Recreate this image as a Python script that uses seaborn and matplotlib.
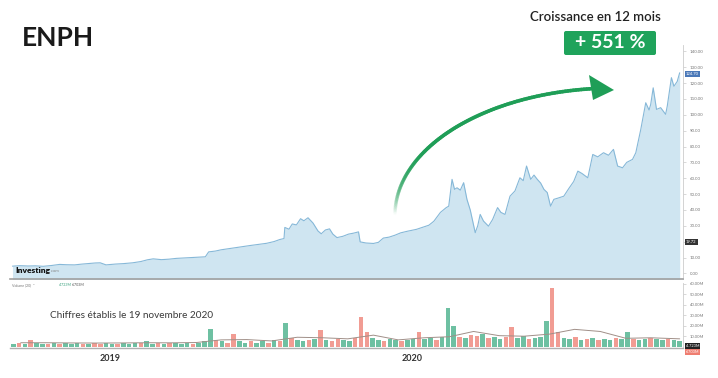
import numpy as np
import pandas as pd
import matplotlib.pyplot as plt
import seaborn as sns
from matplotlib.collections import LineCollection
from matplotlib.patches import FancyBboxPatch, Polygon

# ENPH closing prices
price_dates = [
    "2018-09-05", "2018-09-14", "2018-09-24", "2018-10-03", "2018-10-12", "2018-10-22",
    "2018-11-01", "2018-11-09", "2018-11-19", "2018-11-28", "2018-12-07", "2018-12-14",
    "2018-12-20", "2018-12-27", "2019-01-07", "2019-01-17", "2019-01-28", "2019-02-07",
    "2019-02-15", "2019-02-22", "2019-03-04", "2019-03-13", "2019-03-22", "2019-04-02",
    "2019-04-11", "2019-04-22", "2019-04-26", "2019-04-30", "2019-05-08", "2019-05-15",
    "2019-05-24", "2019-06-03", "2019-06-10", "2019-06-19", "2019-06-28", "2019-07-09",
    "2019-07-18", "2019-07-25", "2019-07-30", "2019-07-31", "2019-08-05", "2019-08-09",
    "2019-08-14", "2019-08-19", "2019-08-23", "2019-08-28", "2019-09-03", "2019-09-09",
    "2019-09-13", "2019-09-18", "2019-09-23", "2019-09-27", "2019-10-02", "2019-10-09",
    "2019-10-16", "2019-10-22", "2019-10-28", "2019-10-30", "2019-11-06", "2019-11-15",
    "2019-11-21", "2019-11-27", "2019-12-04", "2019-12-11", "2019-12-18", "2019-12-26",
    "2020-01-06", "2020-01-14", "2020-01-21", "2020-01-27", "2020-02-04", "2020-02-11",
    "2020-02-14", "2020-02-18", "2020-02-21", "2020-02-24", "2020-02-28", "2020-03-03",
    "2020-03-07", "2020-03-11", "2020-03-17", "2020-03-20", "2020-03-23", "2020-03-27",
    "2020-04-02", "2020-04-07", "2020-04-13", "2020-04-17", "2020-04-22", "2020-04-28",
    "2020-05-04", "2020-05-10", "2020-05-14", "2020-05-18", "2020-05-23", "2020-05-27",
    "2020-05-31", "2020-06-04", "2020-06-08", "2020-06-12", "2020-06-16", "2020-06-20",
    "2020-06-25", "2020-07-02", "2020-07-08", "2020-07-14", "2020-07-19", "2020-07-24",
    "2020-07-31", "2020-08-06", "2020-08-12", "2020-08-19", "2020-08-25", "2020-08-31",
    "2020-09-05", "2020-09-11", "2020-09-16", "2020-09-23", "2020-09-27", "2020-10-03",
    "2020-10-09", "2020-10-13", "2020-10-15", "2020-10-18", "2020-10-22", "2020-10-27",
    "2020-11-02", "2020-11-04", "2020-11-09", "2020-11-12", "2020-11-16", "2020-11-19",
]
price_values = [
    4.6, 4.9, 4.7, 4.8, 4.5, 5.0,
    5.7, 5.5, 5.4, 5.9, 6.3, 6.6,
    6.7, 5.4, 5.9, 6.2, 6.7, 7.5,
    8.6, 9.2, 8.7, 9.0, 9.5, 9.8,
    10.1, 10.4, 10.5, 13.6, 14.1, 14.9,
    15.6, 16.4, 16.9, 17.6, 18.2, 19.0,
    20.1, 21.4, 22.0, 29.0, 27.9, 31.2,
    30.6, 34.5, 33.2, 35.1, 31.8, 26.8,
    25.0, 27.4, 28.1, 24.8, 22.6, 23.4,
    24.8, 25.4, 26.2, 19.9, 19.2, 18.9,
    19.6, 22.3, 22.9, 24.1, 25.6, 26.6,
    27.8, 29.2, 30.4, 32.9, 38.5, 41.5,
    42.4, 59.3, 53.0, 54.0, 52.5, 57.2,
    46.7, 40.0, 25.7, 30.0, 37.2, 33.0,
    29.8, 34.0, 41.5, 38.5, 37.2, 48.7,
    52.0, 60.3, 58.5, 67.7, 59.3, 62.0,
    59.3, 57.0, 53.0, 51.0, 42.4, 46.7,
    47.5, 48.7, 53.5, 58.0, 64.5, 63.0,
    60.3, 75.0, 73.5, 76.1, 74.5, 78.2,
    67.7, 66.6, 70.0, 71.9, 76.1, 90.8,
    107.6, 103.0, 106.6, 117.0, 103.4, 104.5,
    100.3, 105.5, 123.4, 118.0, 121.0, 126.5,
]

# weekly volume (millions), week ending 2020-11-19 is the last one
volumes = [
    3, 4, 3, 6, 4, 3, 3, 4, 3, 4,
    3, 4, 3, 3, 4, 3, 4, 3, 3, 4,
    3, 4, 4, 5, 3, 4, 3, 4, 4, 3,
    4, 3, 4, 5, 17, 6, 5, 4, 12, 5,
    4, 5, 4, 5, 4, 6, 5, 23, 8, 6,
    5, 6, 7, 16, 6, 5, 7, 6, 5, 8,
    28, 14, 8, 6, 5, 7, 6, 5, 6, 7,
    14, 7, 8, 6, 9, 37, 20, 9, 8, 11,
    10, 12, 8, 9, 7, 9, 19, 8, 10, 7,
    8, 9, 24, 56, 14, 8, 7, 9, 6, 7,
    8, 6, 7, 6, 8, 7, 14, 7, 6, 7,
    8, 7, 6, 7, 6, 5,
]
# G = up week, R = down week
volume_dirs = (
    "GRGRGGRGRG" "GGRGRRGGRG" "GGRGGRGRGG" "GRGGGRGRRG"
    "GRGGRGRGRG" "GRGRGRRGGR" "RRGGRGGRGG" "RGGRGGGRGR"
    "RGRGGRRGGR" "GGGRRGGRGR" "GRGGRGGRGG" "RGGRGG"
)

# 20-period volume average (millions), monthly readings
ma_dates = [
    "2018-09-15", "2018-10-15", "2018-11-15", "2018-12-15", "2019-01-15", "2019-02-15",
    "2019-03-15", "2019-04-15", "2019-05-15", "2019-06-15", "2019-07-15", "2019-08-15",
    "2019-09-15", "2019-10-15", "2019-11-15", "2019-12-15", "2020-01-15", "2020-02-15",
    "2020-03-15", "2020-04-15", "2020-05-15", "2020-06-15", "2020-07-15", "2020-08-15",
    "2020-09-15", "2020-10-15", "2020-11-19",
]
ma_values = [
    3.8, 3.8, 3.6, 3.5, 3.6, 3.8,
    3.7, 4.0, 6.5, 6.8, 5.5, 9.0,
    8.5, 7.5, 11.0, 6.5, 8.5, 9.5,
    14.5, 10.5, 10.0, 12.0, 16.5, 14.5,
    8.0, 8.5, 7.5,
]

price_ticks = list(range(0, 141, 10))
volume_ticks = [10, 20, 30, 40, 50, 60]
year_ticks = ["2019-01-01", "2020-01-01"]
year_labels = ["2019", "2020"]

W, H = 718, 378
sns.set_theme(style="white")
plt.rcParams["font.family"] = ["Lato", "DejaVu Sans"]

fig = plt.figure(figsize=(W / 100, H / 100), dpi=100)
fig.patch.set_facecolor("white")

pdates = pd.to_datetime(price_dates)
xmin, xmax = pd.Timestamp("2018-09-02"), pd.Timestamp("2020-11-23")

# ---- price panel
ax_p = fig.add_axes([10 / W, 1 - 279 / H, 673 / W, 234 / H])
ax_p.fill_between(pdates, price_values, -10, color="#cfe5f1", lw=0)
sns.lineplot(x=pdates, y=price_values, ax=ax_p, color="#86b8d8", lw=0.8)
ax_p.set_xlim(xmin, xmax)
ax_p.set_ylim(-3.5, 144)
ax_p.yaxis.tick_right()
ax_p.set_yticks(price_ticks)
# the 20.00 label sits under the dark "one year ago" tag
ax_p.set_yticklabels(["" if v == 20 else f"{v:.2f}" for v in price_ticks])
ax_p.tick_params(axis="y", labelsize=3.2, labelcolor="#777777", length=2,
                 width=0.4, color="#bbbbbb", pad=3)
ax_p.set_xticks([])
ax_p.set_xlabel("")
ax_p.set_ylabel("")
for s in ["top", "left"]:
    ax_p.spines[s].set_visible(False)
ax_p.spines["bottom"].set_color("#a0a0a0")
ax_p.spines["bottom"].set_linewidth(1.2)
ax_p.spines["right"].set_color("#cccccc")
ax_p.spines["right"].set_linewidth(0.6)

# ---- volume panel
vdates = pd.date_range(end="2020-11-19", periods=len(volumes), freq="7D")
vcols = ["#55b592" if d == "G" else "#ef8b80" for d in volume_dirs]
ax_v = fig.add_axes([10 / W, 1 - 348 / H, 673 / W, 65 / H])
ax_v.bar(vdates, volumes, width=5.5, color=vcols, alpha=0.85, lw=0)
sns.lineplot(x=pd.to_datetime(ma_dates), y=ma_values, ax=ax_v,
             color="#a08f88", lw=0.7)
ax_v.set_xlim(xmin, xmax)
ax_v.set_ylim(-1.2, 60.5)
ax_v.yaxis.tick_right()
ax_v.set_yticks(volume_ticks)
ax_v.set_yticklabels([f"{v}.00M" for v in volume_ticks])
ax_v.tick_params(axis="y", labelsize=3.0, labelcolor="#777777", length=2,
                 width=0.4, color="#bbbbbb", pad=3)
ax_v.set_xticks(pd.to_datetime(year_ticks))
ax_v.set_xticklabels(year_labels, fontsize=6.5, fontweight="bold", color="#333333")
ax_v.tick_params(axis="x", length=0, pad=4)
ax_v.set_xlabel("")
ax_v.set_ylabel("")
for s in ["top", "left"]:
    ax_v.spines[s].set_visible(False)
ax_v.spines["bottom"].set_color("#b0b0b0")
ax_v.spines["bottom"].set_linewidth(1.0)
ax_v.spines["right"].set_color("#cccccc")
ax_v.spines["right"].set_linewidth(0.6)

# ---- overlay in pixel coordinates for titles, arrow, labels
ov = fig.add_axes([0, 0, 1, 1], zorder=10)
ov.set_xlim(0, W)
ov.set_ylim(H, 0)
ov.axis("off")
ov.patch.set_alpha(0)

ov.text(22, 38, "ENPH", fontsize=19, fontweight="bold", color="#1a1a1a",
        va="center", ha="left")
ov.text(595, 17, "Croissance en 12 mois", fontsize=9.5, fontweight="semibold",
        color="#222222", va="center", ha="center")
ov.add_patch(FancyBboxPatch((564, 31), 92, 24, boxstyle="round,pad=0,rounding_size=2",
                            fc="#1fa35b", ec="none"))
ov.text(610, 43, "+ 551 %", fontsize=14, fontweight="bold", color="white",
        va="center", ha="center")

# curved growth arrow with a fading tail
green = np.array([0.12, 0.62, 0.34])
t = np.linspace(0, np.deg2rad(84), 120)
ax_ = 615 - 220 * np.cos(t)
ay_ = 215 - 127 * np.sin(t)
pts = np.column_stack([ax_, ay_]).reshape(-1, 1, 2)
segs = np.concatenate([pts[:-1], pts[1:]], axis=1)
alpha = np.clip(np.linspace(0, 1, len(segs)) / 0.4, 0, 1)
rgba = np.column_stack([np.tile(green, (len(segs), 1)), alpha])
ov.add_collection(LineCollection(segs, colors=rgba, linewidths=2.6, capstyle="round"))
ov.add_patch(Polygon([(614, 90), (589, 75), (593, 100)], closed=True,
                     fc=green, ec="none"))

ov.text(50, 315, "Chiffres établis le 19 novembre 2020", fontsize=7.2,
        color="#3a3a3a", va="center", ha="left")

# investing.com mark
ov.text(15, 270, "Investing", fontsize=6, fontweight="heavy", color="#111111",
        va="center", ha="left")
ov.text(51, 271.5, ".com", fontsize=3, color="#888888", va="center", ha="left")

ov.text(12, 285, "Volume (20)  \u02c5", fontsize=2.6, color="#777777", va="center")
ov.text(59, 285, "4.723M", fontsize=2.6, color="#3aa27f", va="center")
ov.text(72, 285, "6.703M", fontsize=2.6, color="#555555", va="center")

# highlighted last-value tags on the right axes
ov.text(686, 74, "124.70", fontsize=3, color="white", va="center", ha="left",
        bbox=dict(boxstyle="square,pad=0.25", fc="#4a78b8", ec="none"))
ov.text(686, 242, "19.72", fontsize=3, color="white", va="center", ha="left",
        bbox=dict(boxstyle="square,pad=0.25", fc="#333333", ec="none"))
ov.text(686, 346, "4.723M", fontsize=2.8, color="white", va="center", ha="left",
        bbox=dict(boxstyle="square,pad=0.25", fc="#222222", ec="none"))
ov.text(686, 352, "6.703M", fontsize=2.8, color="white", va="center", ha="left",
        bbox=dict(boxstyle="square,pad=0.25", fc="#ef7d70", ec="none"))

fig.savefig("out.png", dpi=100)
